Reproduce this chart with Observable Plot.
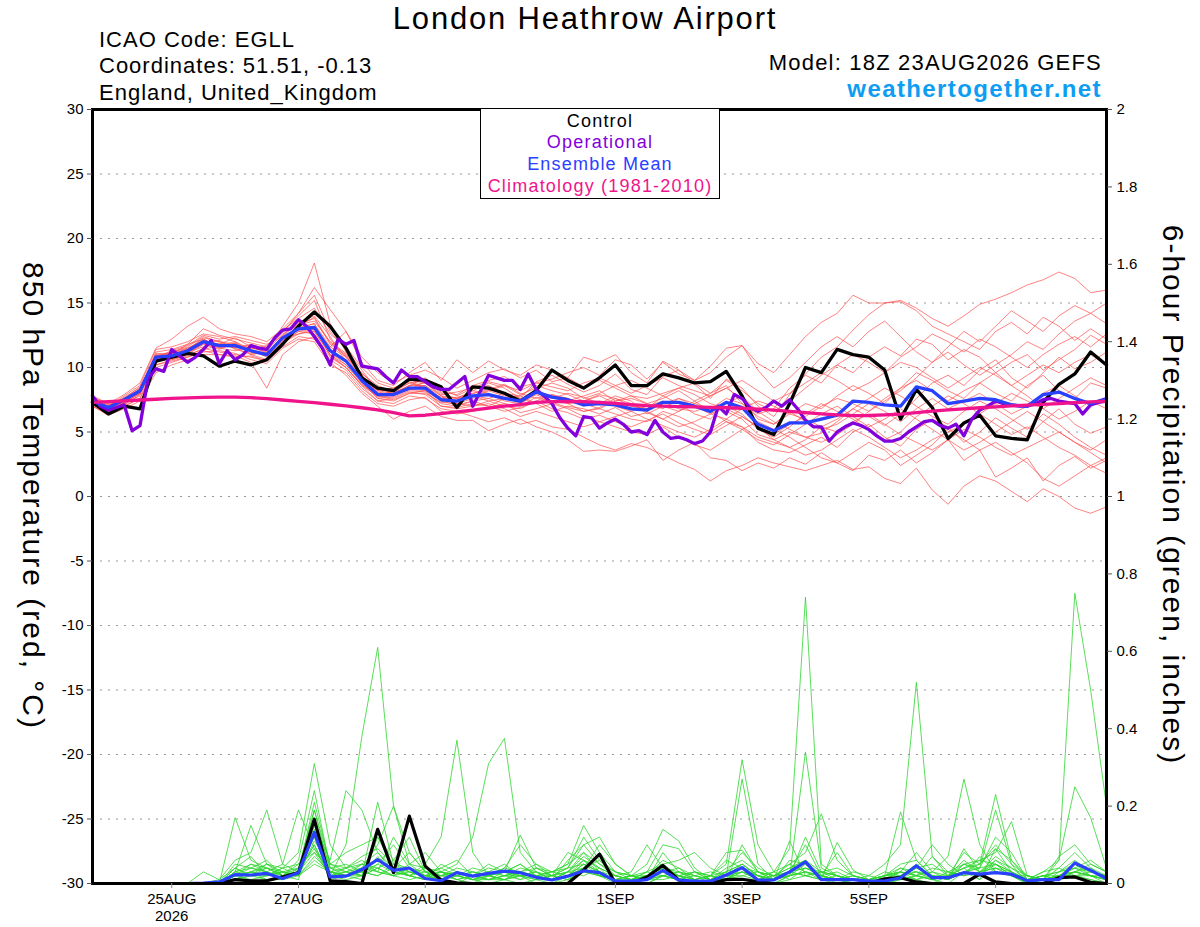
<!DOCTYPE html>
<html><head><meta charset="utf-8">
<script src="https://cdn.jsdelivr.net/npm/d3@7"></script>
<script src="https://cdn.jsdelivr.net/npm/@observablehq/plot@0.6"></script>
<style>
html,body{margin:0;padding:0;background:#fff;}
#wrap{position:relative;width:1200px;height:927px;font-family:"Liberation Sans",Arial,Helvetica,sans-serif;overflow:hidden;}
#wrap svg{position:absolute;left:0;top:0;}
.t{position:absolute;white-space:nowrap;line-height:1;}
#legend{position:absolute;left:480px;top:108px;width:240px;height:91px;box-sizing:border-box;border:1.5px solid #000;background:#fff;}
</style></head><body><div id="wrap"></div>
<script>
// ---------- DATA ----------
const runStartUTC = [2026, 7, 23, 18]; // 18Z 23AUG2026
const tempTicks = [-30,-25,-20,-15,-10,-5,0,5,10,15,20,25,30];
const gridTicks = [-25,-20,-15,-10,-5,0,5,10,15,20,25];
const precipTicks = [0,0.2,0.4,0.6,0.8,1,1.2,1.4,1.6,1.8,2];
const precipTickLabels = ["0","0.2","0.4","0.6","0.8","1","1.2","1.4","1.6","1.8","2"];
const dateTicks = ["2026-08-25","2026-08-27","2026-08-29","2026-09-01","2026-09-03","2026-09-05","2026-09-07"];
const dateTickLabels = ["25AUG\n2026","27AUG","29AUG","1SEP","3SEP","5SEP","7SEP"];

// 6-hourly 850 hPa temperature (degC)
const tempControl = [7.3,6.4,7.0,6.8,10.5,10.8,11.1,10.9,10.1,10.5,
 10.2,10.6,11.8,13.2,14.3,13.2,11.5,9.2,8.4,8.2,
 9.1,9.0,8.5,6.9,8.5,8.4,8.0,7.4,8.2,9.8,
 9.0,8.4,9.2,10.2,8.6,8.6,9.5,9.2,8.8,8.9,
 9.7,7.8,5.3,4.8,7.2,10.0,9.6,11.4,11.0,10.8,
 9.8,6.0,8.3,6.9,4.5,5.7,6.3,4.7,4.5,4.4,
 7.3,8.7,9.5,11.2,10.2];
const tempMean = [7.4,6.9,7.5,8.2,10.8,10.9,11.3,12.0,11.7,11.7,
 11.3,11.0,12.3,13.0,13.1,11.3,10.5,9.0,7.9,7.9,
 8.4,8.4,7.5,7.4,7.8,7.9,7.6,7.4,8.1,7.7,
 7.5,7.1,7.2,7.1,6.8,6.7,7.3,7.3,7.0,6.6,
 7.3,6.9,5.6,5.1,5.7,5.7,6.0,6.3,7.4,7.3,
 7.1,7.0,8.5,8.2,7.2,7.4,7.6,7.5,7.1,7.0,
 7.9,8.1,7.6,7.2,7.6];
const tempClimatology = [7.3,7.36,7.42,7.48,7.54,7.6,7.65,7.68,7.7,7.7,
 7.66,7.58,7.48,7.38,7.27,7.15,7.02,6.88,6.72,6.5,
 6.25,6.3,6.42,6.56,6.7,6.85,7.0,7.12,7.3,7.36,
 7.38,7.36,7.3,7.22,7.12,7.04,7.0,6.97,6.94,6.91,
 6.88,6.84,6.78,6.7,6.6,6.5,6.4,6.32,6.27,6.28,
 6.32,6.38,6.5,6.62,6.72,6.8,6.88,6.95,7.02,7.08,
 7.14,7.2,7.27,7.34,7.4];
// 3-hourly operational run
const tempOperational = [7.8,7.0,6.7,6.9,7.1,5.1,5.5,9.1,9.9,9.7,
 11.4,10.9,10.4,10.8,11.4,12.1,10.3,11.3,10.6,11.0,
 11.7,11.5,11.4,12.3,12.9,13.0,13.7,13.2,12.4,11.5,
 10.2,12.2,11.8,12.1,10.1,10.0,9.9,9.3,8.8,9.8,
 9.3,9.3,8.9,8.5,8.3,8.3,8.8,9.3,7.0,8.2,
 9.4,9.2,9.0,9.0,8.3,9.5,8.3,7.8,7.2,6.1,
 5.3,4.7,6.2,6.1,5.3,5.7,6.0,5.6,5.0,5.1,
 4.8,5.9,5.0,4.5,4.6,4.4,4.1,4.3,5.0,7.0,
 6.4,7.9,7.6,6.9,6.6,6.9,7.4,7.0,7.5,6.8,
 5.9,5.4,5.4,4.3,5.0,5.4,5.7,5.5,5.2,4.7,
 4.3,4.3,4.5,5.0,5.4,5.8,5.9,5.5,5.3,5.6,
 4.7,6.0,6.7,7.0,7.4,7.2,7.1,7.0,7.0,7.2,
 7.5,7.6,7.4,7.3,7.2,6.4,7.1,7.3,7.4];
// 6-hourly ensemble members
const tempMembers = [
 [7.5,6.8,7.6,8.5,10.9,11.2,11.6,12.4,12.0,11.5,11.8,11.4,13.2,15.0,18.1,13.4,11.2,9.5,8.6,8.1,8.8,9.0,8.0,7.6,8.2,8.8,8.4,7.6,8.9,9.4,8.7,8.1,8.6,9.5,8.3,7.9,9.3,9.8,8.7,7.6,9.1,8.4,7.0,6.2,7.9,9.5,10.8,11.6,12.9,14.1,15.0,15.2,14.6,13.8,13.2,14.0,14.9,15.3,15.8,16.4,16.8,17.4,16.9,15.8,16.0],
 [7.2,6.5,7.3,8.0,10.5,11.0,11.8,13.0,12.5,12.2,11.9,11.6,12.8,14.0,15.2,12.2,10.8,9.6,8.4,8.0,8.6,9.2,8.1,7.9,8.6,9.0,9.3,8.5,8.8,9.1,9.6,10.0,9.4,10.6,10.2,9.1,10.4,9.5,9.0,10.1,11.5,11.7,10.3,9.6,11.0,12.4,13.5,14.2,15.6,15.0,15.0,15.1,14.4,13.2,12.6,12.0,11.4,12.8,13.5,12.6,13.9,13.2,12.1,13.0,12.2],
 [7.6,7.1,7.2,7.8,10.2,10.6,10.9,11.5,11.2,11.0,10.8,10.5,11.9,12.6,12.8,11.0,10.0,8.6,7.4,7.2,7.8,7.6,6.8,6.6,6.2,5.8,6.1,5.6,5.9,5.4,5.2,4.6,4.0,3.6,4.1,3.8,3.2,2.6,2.1,1.2,2.0,2.4,3.0,2.6,2.3,2.0,2.4,2.8,2.1,2.3,1.4,1.0,2.2,0.5,-0.6,0.8,1.6,1.2,0.4,-0.4,0.6,0.0,-0.9,-1.3,-0.8],
 [7.0,6.3,6.8,7.4,9.6,10.2,10.6,11.0,11.0,10.9,10.4,8.4,11.0,12.0,12.4,10.4,9.4,8.0,7.0,6.0,6.6,7.0,6.2,5.9,5.9,5.1,5.6,6.0,5.4,5.0,4.4,3.5,3.6,3.5,3.9,4.4,2.8,3.6,4.2,3.0,2.8,2.0,2.6,2.2,3.0,2.5,3.4,2.6,2.0,3.2,2.8,3.6,2.6,3.4,4.4,2.8,3.6,1.5,2.2,3.0,1.2,2.4,3.1,2.2,2.8],
 [7.8,7.2,7.9,8.8,11.5,12.2,13.2,13.9,13.0,12.6,12.4,12.0,13.0,14.2,16.2,14.5,12.8,10.8,9.6,8.8,9.4,9.8,9.2,8.4,9.0,9.6,9.9,9.2,9.8,8.9,9.2,8.5,9.0,8.4,7.8,7.2,7.6,8.2,7.4,8.0,8.6,7.2,6.4,6.8,8.4,9.4,8.8,10.2,9.6,10.8,11.6,10.9,12.2,11.8,10.6,11.4,10.8,9.6,10.4,11.0,9.8,10.6,11.4,12.5,11.8],
 [7.3,6.7,7.4,8.1,10.9,11.0,11.5,12.1,11.8,12.3,11.6,11.2,12.0,13.4,13.8,11.8,10.9,9.3,8.2,8.4,9.0,8.8,7.9,8.1,8.4,8.6,8.0,7.8,8.6,8.2,7.9,7.4,7.9,7.6,7.0,6.8,7.8,7.2,6.4,6.0,7.2,7.8,6.6,5.8,5.2,4.6,4.9,5.8,6.8,6.2,5.5,6.4,7.6,8.8,9.4,8.6,9.8,10.6,9.2,8.4,9.6,10.8,9.9,10.4,11.2],
 [7.1,6.6,7.1,7.9,10.6,10.7,11.0,11.8,11.4,11.9,11.2,10.9,12.5,13.6,12.8,11.0,10.2,8.8,7.6,7.7,8.2,8.1,7.2,7.0,7.4,7.6,7.2,7.0,7.7,7.3,6.9,6.6,6.8,6.4,6.0,5.8,6.6,6.2,5.6,5.0,5.8,5.4,4.2,3.6,3.4,4.0,4.6,3.8,5.0,5.6,4.6,3.9,5.2,6.0,5.4,4.2,5.0,6.1,5.3,4.6,5.8,6.8,5.6,4.9,5.4],
 [7.5,7.0,7.7,8.4,11.0,11.1,11.4,12.3,12.0,11.8,11.5,11.3,12.6,13.3,13.6,12.0,11.1,9.4,8.0,7.8,8.6,8.6,7.8,7.2,7.6,8.2,7.8,7.2,8.0,7.6,8.0,7.7,7.2,7.8,7.4,6.4,7.0,6.6,7.2,7.8,8.4,7.6,6.0,5.6,6.4,7.2,6.8,7.8,8.6,8.0,7.2,8.4,9.6,9.0,8.2,7.6,8.8,8.0,7.4,8.6,9.4,8.2,7.6,8.8,8.4],
 [7.2,6.8,7.3,8.0,10.4,10.8,11.2,11.6,11.9,11.5,11.0,10.6,11.8,12.8,12.6,10.8,10.0,8.7,7.8,7.5,8.0,8.2,7.0,6.9,7.2,7.0,6.6,6.9,7.4,6.8,6.5,6.0,6.3,5.8,5.4,5.9,6.4,5.7,5.2,4.8,5.5,6.2,5.4,4.4,3.8,4.4,5.4,6.0,6.8,7.6,8.4,7.8,7.0,6.2,5.6,6.6,7.4,6.8,6.0,5.2,6.4,5.6,4.6,3.8,3.2],
 [7.6,6.9,7.6,8.3,11.2,11.4,11.8,12.2,11.6,11.6,11.4,11.7,12.9,13.8,14.6,12.6,11.6,10.0,8.8,8.4,8.9,8.5,7.6,7.7,8.0,8.3,8.7,8.0,7.6,7.9,7.4,7.8,8.2,7.4,7.8,7.6,8.0,8.4,7.9,7.2,6.8,6.2,5.4,4.8,5.6,6.2,7.0,7.6,7.2,6.6,7.4,8.2,9.2,10.4,11.2,10.2,9.4,10.2,11.0,12.0,11.4,12.6,13.6,14.2,13.4],
 [7.0,6.4,7.0,7.6,10.0,10.4,10.8,11.2,11.3,11.1,10.6,10.3,11.5,12.2,12.0,10.2,9.6,8.2,7.2,7.0,7.5,7.7,6.6,6.4,6.6,6.9,7.2,6.5,6.8,7.2,6.8,6.2,5.8,6.2,6.6,6.0,5.5,5.0,4.6,5.2,6.0,6.8,7.4,7.0,6.4,6.0,5.4,5.0,5.8,6.4,5.6,4.8,4.2,3.6,4.4,5.2,4.6,3.8,3.2,3.8,4.4,5.0,4.2,3.6,4.4],
 [7.4,7.0,7.8,8.6,11.4,11.6,12.0,12.6,12.4,12.0,11.2,11.0,12.2,13.1,13.4,11.6,12.8,10.4,9.0,8.6,9.6,10.4,9.0,10.6,9.6,10.5,9.8,9.4,10.2,9.8,9.2,10.8,10.4,11.0,9.6,8.8,10.5,9.8,9.0,9.6,10.8,11.7,9.8,8.4,9.2,10.4,11.6,12.4,11.6,12.8,13.6,12.4,11.2,10.4,11.6,12.8,12.0,13.2,14.4,13.6,12.8,14.0,14.8,14.2,15.0],
 [7.3,6.6,7.2,8.0,10.7,10.9,11.1,11.9,11.5,11.3,11.6,11.1,12.4,13.5,14.0,12.4,10.4,9.0,7.6,7.4,8.0,8.0,7.3,7.2,7.0,7.4,7.6,7.8,7.2,6.6,7.0,6.8,6.4,6.9,6.2,6.5,6.0,5.4,5.8,6.4,7.0,6.4,5.2,4.6,5.4,6.4,7.2,6.6,6.0,5.2,4.4,5.0,6.2,7.0,7.8,7.2,6.4,7.2,8.0,7.4,6.8,7.6,8.4,9.2,8.6],
 [7.7,7.2,7.5,8.2,10.8,11.3,11.7,12.5,12.2,12.4,12.1,11.8,12.4,12.9,13.2,10.9,10.0,8.6,7.8,8.2,8.8,8.4,7.4,7.6,7.8,7.4,7.0,6.8,7.4,7.9,7.6,7.0,7.4,7.0,6.6,7.0,7.4,6.8,6.6,7.0,6.6,6.0,4.8,4.4,5.0,4.6,4.2,4.8,5.6,6.6,7.6,8.4,9.0,8.2,7.4,8.2,8.8,9.6,8.6,7.8,6.8,6.0,6.6,7.4,6.8],
 [7.4,6.8,7.4,8.1,10.6,10.6,11.0,11.4,11.7,12.0,11.4,10.8,12.0,12.8,13.0,11.4,10.6,9.2,8.3,8.1,8.5,8.3,7.7,7.4,8.2,8.0,7.4,7.2,7.9,7.4,7.2,7.4,7.8,7.2,7.0,6.8,7.2,7.6,7.2,6.8,7.6,7.2,6.2,5.6,6.6,5.8,5.2,5.6,6.4,7.2,6.6,5.8,6.8,7.6,6.8,7.4,8.0,7.2,6.4,7.0,8.0,8.6,7.8,7.0,7.6],
 [7.2,6.6,7.0,7.6,10.2,10.5,10.8,11.3,11.0,10.8,10.9,10.5,11.6,12.4,12.2,10.6,9.8,8.4,7.4,7.6,8.1,7.9,7.0,6.8,7.0,7.2,6.8,6.2,6.6,6.2,5.8,5.4,5.8,5.4,5.0,4.8,5.4,4.6,4.0,3.6,4.4,5.2,5.8,5.2,4.6,3.8,3.0,2.6,3.4,4.2,3.6,2.4,3.2,4.0,5.2,4.4,3.6,4.2,3.4,2.6,1.4,0.8,1.6,2.4,1.8],
 [7.5,6.9,7.5,8.3,11.1,11.0,11.3,11.9,11.8,11.6,11.7,11.5,12.7,14.2,15.6,12.8,11.4,9.8,8.2,8.0,8.3,8.9,8.4,7.8,8.4,8.9,8.6,8.2,8.8,8.5,8.2,8.8,9.2,8.6,8.0,8.6,9.2,8.6,8.2,7.8,8.4,9.0,8.2,7.4,8.0,8.8,9.6,9.0,8.2,8.8,9.6,10.4,10.0,9.2,8.4,9.2,10.0,9.4,8.6,9.4,10.2,9.6,10.4,11.0,10.2],
 [7.1,6.5,7.2,8.4,10.6,11.2,11.5,12.0,11.5,11.9,11.0,11.2,12.1,13.0,13.4,11.2,10.2,8.9,7.7,7.8,8.3,8.2,7.4,7.1,7.4,7.0,7.6,7.4,8.2,7.8,7.2,6.6,6.9,7.6,7.2,6.6,6.0,6.6,7.4,6.6,5.8,5.2,4.4,4.0,4.8,5.6,6.4,7.0,6.2,5.4,6.0,6.8,6.0,5.2,4.4,3.6,4.2,5.0,5.8,6.6,5.8,5.0,4.2,3.4,2.6],
 [7.6,7.1,7.6,8.0,10.9,10.8,11.4,12.2,11.6,11.8,11.3,10.9,12.2,12.6,13.0,11.6,10.8,9.2,8.0,8.0,8.6,8.8,7.8,7.6,8.0,8.2,8.6,7.9,8.4,8.8,8.4,7.6,8.0,8.6,9.0,8.4,7.8,8.4,8.8,8.0,9.0,8.2,7.2,6.6,7.4,8.4,9.4,10.2,11.0,10.4,9.6,10.8,11.6,12.6,12.0,11.2,12.2,11.6,10.8,10.0,11.0,11.8,12.4,11.6,12.6],
 [7.3,6.8,7.4,8.2,10.7,11.1,11.2,11.8,12.1,11.4,11.1,11.1,12.2,13.2,13.9,11.9,11.0,9.4,8.1,7.9,8.4,8.6,7.6,7.3,7.8,7.6,8.0,7.6,7.2,7.8,7.6,7.2,6.8,7.4,7.6,7.2,6.8,7.6,7.0,6.4,6.0,5.4,4.6,4.2,3.8,3.2,3.6,4.4,5.2,4.6,3.8,3.0,3.6,4.4,5.0,5.6,6.4,5.6,4.8,5.4,4.6,3.8,3.2,2.4,3.0]
];

// 6-hour precipitation (inches), valid from 00Z 24AUG (64 steps)
const precipControl = [0,0,0,0,0,0,0,0,0.01,0.007,0.007,0.017,0.028,0.166,0.007,0.005,
 0,0.14,0.028,0.174,0.045,0.009,0.002,0,0,0,0,0,0,0,0.035,0.076,
 0,0,0.017,0.047,0.009,0,0,0.01,0.011,0.005,0,0,0,0,0,0,
 0,0.012,0.015,0.004,0,0,0,0.024,0.004,0,0,0,0.015,0.017,0.003,0];
const precipMean = [0,0,0,0,0,0,0.001,0.004,0.023,0.022,0.026,0.013,0.028,0.132,0.017,0.019,
 0.036,0.062,0.034,0.04,0.013,0.007,0.028,0.019,0.026,0.032,0.028,0.016,0.009,0.019,0.033,0.028,
 0.006,0.006,0.01,0.034,0.009,0.006,0.006,0.022,0.041,0.009,0.009,0.03,0.056,0.01,0.01,0.01,
 0.006,0.006,0.015,0.046,0.015,0.015,0.028,0.024,0.028,0.024,0.007,0.01,0.01,0.053,0.034,0.013];
const precipMembers = [
 [0,0,0,0,0,0,0,0, 0.02,0.05,0.03,0.01,0.04,0.12,0.02,0.10, 0.38,0.61,0.20,0.08,0.03,0.01,0,0.02, 0.01,0.03,0.02,0,0,0.01,0.04,0.02, 0,0,0,0.02,0.01,0,0,0.01, 0.04,0.01,0.03,0.09,0.74,0.05,0.02,0, 0,0,0.01,0.02,0.01,0,0.03,0.02, 0.05,0.02,0,0,0.01,0.03,0.02,0],
 [0,0,0,0,0,0,0,0.01, 0.04,0.02,0.05,0.03,0.02,0.19,0.03,0.02, 0.05,0.08,0.03,0.02,0.05,0.12,0.37,0.08, 0.02,0.01,0,0.01,0,0.02,0.05,0.03, 0.01,0,0.01,0.03,0.02,0,0,0.02, 0.01,0,0,0.02,0.05,0.02,0.01,0, 0,0,0.02,0.01,0,0.02,0.04,0.01, 0.09,0.03,0,0.01,0.06,0.75,0.50,0.20],
 [0,0,0,0,0,0,0,0, 0.01,0.03,0.02,0.04,0.05,0.08,0.02,0.03, 0.02,0.04,0.02,0.01,0.02,0.03,0.05,0.12, 0.31,0.375,0.08,0.03,0.01,0.02,0.06,0.04, 0,0.01,0.02,0.04,0.02,0,0.01,0.03, 0.05,0.02,0,0.01,0.04,0.02,0,0.01, 0.02,0.05,0.10,0.52,0.07,0.02,0.03,0.01, 0.04,0.02,0,0,0.02,0.03,0.02,0.01],
 [0,0,0,0,0,0,0,0, 0.17,0.06,0.04,0.02,0.03,0.10,0.01,0.02, 0.03,0.05,0.10,0.04,0.02,0.01,0.03,0.02, 0.01,0.02,0.03,0.05,0.02,0.04,0.10,0.12, 0.05,0.02,0.03,0.02,0.01,0,0.02,0.05, 0.32,0.10,0.03,0.01,0.02,0.01,0,0, 0,0.01,0.02,0.01,0.03,0.07,0.27,0.10, 0.03,0.02,0,0,0.01,0.02,0.01,0],
 [0,0,0,0,0,0,0,0, 0.03,0.15,0.05,0.02,0.06,0.24,0.04,0.02, 0.01,0.12,0.04,0.02,0.01,0.02,0.01,0, 0.02,0.03,0.125,0.04,0.02,0.01,0.03,0.02, 0.01,0,0.02,0.03,0.02,0.01,0,0.02, 0.27,0.05,0.01,0.02,0.34,0.04,0.02,0.01, 0,0,0.02,0.03,0.01,0.02,0.04,0.05, 0.23,0.06,0.01,0,0.02,0.05,0.03,0.02],
 [0,0,0,0,0,0,0.03,0.01, 0.06,0.08,0.19,0.05,0.03,0.21,0.05,0.03, 0.02,0.21,0.05,0.02,0.01,0.03,0.02,0.01, 0,0.01,0.02,0.03,0.01,0.03,0.08,0.05, 0.02,0.01,0,0.02,0.03,0.01,0,0.01, 0.03,0.01,0,0.02,0.03,0.02,0.01,0, 0,0.02,0.185,0.06,0.02,0.01,0.03,0.04, 0.19,0.05,0,0.01,0.02,0.04,0.02,0.01],
 [0,0,0,0,0,0,0,0, 0.04,0.07,0.02,0.03,0.02,0.15,0.06,0.24, 0.19,0.08,0.04,0.02,0.03,0.01,0.02,0.01, 0.02,0.01,0.03,0.02,0.01,0.02,0.05,0.03, 0.01,0.02,0.05,0.14,0.11,0.04,0.01,0.02, 0.04,0.03,0.02,0.05,0.08,0.18,0.06,0.02, 0.01,0,0.01,0.02,0.01,0.03,0.05,0.06, 0.08,0.16,0.02,0.01,0.02,0.03,0.04,0.02],
 [0,0,0,0,0,0,0,0, 0.02,0.03,0.05,0.04,0.08,0.31,0.10,0.04, 0.05,0.03,0.02,0.05,0.04,0.02,0.03,0.02, 0.05,0.03,0.01,0.02,0.03,0.05,0.15,0.08, 0.03,0.02,0.01,0.01,0.02,0.03,0.02,0.08, 0.086,0.03,0.01,0.11,0.02,0.01,0.106,0.035, 0.01,0,0.02,0.04,0.10,0.05,0.02,0.03, 0.06,0.04,0.01,0,0.03,0.05,0.02,0.01],
 [0,0,0,0,0,0,0,0, 0.01,0.02,0.03,0.05,0.19,0.09,0.03,0.02, 0.04,0.10,0.20,0.05,0.02,0.03,0.01,0.02, 0.03,0.02,0.04,0.03,0.01,0.02,0.04,0.10, 0.05,0.02,0.01,0.08,0.03,0.02,0.01,0.02, 0.05,0.02,0.01,0.03,0.02,0.03,0.01,0, 0,0.01,0.03,0.08,0.03,0.01,0.09,0.03, 0.05,0.02,0.01,0.03,0.06,0.25,0.17,0.04],
 [0,0,0,0,0,0,0,0, 0.03,0.04,0.06,0.02,0.04,0.19,0.05,0.08, 0.10,0.12,0.06,0.12,0.03,0.02,0.04,0.03, 0.02,0.04,0.10,0.05,0.03,0.04,0.12,0.06, 0.02,0.01,0.03,0.10,0.09,0.03,0.01,0.04, 0.06,0.03,0.02,0.04,0.06,0.03,0.02,0.01, 0.01,0.02,0.05,0.06,0.02,0.01,0.03,0.05, 0.09,0.06,0.02,0.01,0.07,0.10,0.05,0.03],
 [0,0,0,0,0,0,0,0, 0.02,0.03,0.01,0.02,0.05,0.12,0.02,0.04, 0.06,0.03,0.12,0.05,0.08,0.03,0.02,0.01, 0.01,0.02,0.02,0.03,0.02,0.08,0.06,0.03, 0.01,0,0.01,0.05,0.06,0.08,0.04,0.02, 0.03,0.02,0.01,0.03,0.10,0.02,0.01,0.01, 0,0.01,0.02,0.05,0.01,0.02,0.06,0.03, 0.04,0.03,0.01,0.02,0.01,0.02,0.03,0.02],
 [0,0,0,0,0,0,0,0, 0.05,0.04,0.03,0.02,0.03,0.08,0.04,0.05, 0.03,0.06,0.04,0.08,0.03,0.04,0.02,0.03, 0.02,0.03,0.05,0.02,0.01,0.03,0.02,0.04, 0.02,0.03,0.10,0.04,0.02,0.01,0.02,0.06, 0.04,0.02,0.03,0.05,0.03,0.02,0.08,0.02, 0.01,0.02,0.03,0.02,0.07,0.03,0.02,0.07, 0.03,0.02,0.01,0.03,0.04,0.08,0.04,0.01],
 [0,0,0,0,0,0,0,0, 0.02,0.01,0.02,0.03,0.02,0.06,0.03,0.02, 0.02,0.05,0.03,0.02,0.01,0.05,0.03,0.02, 0.01,0.01,0.02,0.01,0.02,0.03,0.04,0.02, 0.01,0.02,0.02,0.03,0.04,0.02,0.01,0.01, 0.02,0.01,0.02,0.03,0.04,0.03,0.02,0.01, 0.01,0.02,0.02,0.03,0.02,0.02,0.03,0.02, 0.03,0.02,0.02,0.01,0.02,0.03,0.02,0.01],
 [0,0,0,0,0,0,0,0, 0.04,0.02,0.01,0.01,0.03,0.10,0.02,0.03, 0.05,0.04,0.02,0.03,0.02,0.01,0.02,0.04, 0.03,0.05,0.02,0.02,0.01,0.06,0.10,0.05, 0.03,0.01,0.02,0.06,0.04,0.01,0.02,0.03, 0.08,0.04,0.02,0.02,0.12,0.03,0.04,0.02, 0.01,0.01,0.04,0.03,0.02,0.01,0.05,0.04, 0.12,0.08,0.01,0.02,0.03,0.06,0.03,0.02],
 [0,0,0,0,0,0,0,0, 0.01,0.03,0.02,0.04,0.02,0.05,0.03,0.04, 0.07,0.09,0.05,0.03,0.02,0.04,0.06,0.02, 0.02,0.01,0.03,0.02,0.02,0.01,0.03,0.02, 0.01,0.01,0.02,0.02,0.01,0.02,0.03,0.02, 0.03,0.02,0.01,0.06,0.05,0.02,0.01,0.02, 0.01,0.02,0.04,0.02,0.03,0.02,0.08,0.05, 0.10,0.05,0.02,0.01,0.02,0.02,0.01,0],
 [0,0,0,0,0,0,0,0, 0.03,0.05,0.04,0.02,0.01,0.14,0.03,0.02, 0.03,0.02,0.04,0.03,0.02,0.02,0.03,0.01, 0.03,0.02,0.01,0.04,0.03,0.05,0.08,0.03, 0.02,0.01,0.03,0.05,0.02,0.03,0.01,0.02, 0.02,0.03,0.01,0.02,0.03,0.01,0.02,0.01, 0.01,0.03,0.02,0.04,0.05,0.02,0.04,0.06, 0.05,0.03,0.01,0.02,0.03,0.04,0.06,0.03],
 [0,0,0,0,0,0,0,0, 0.02,0.03,0.04,0.02,0.03,0.17,0.04,0.03, 0.04,0.03,0.02,0.04,0.03,0.02,0.02,0.03, 0.02,0.04,0.03,0.02,0.01,0.03,0.07,0.04, 0.02,0.01,0.02,0.04,0.03,0.01,0.02,0.01, 0.04,0.02,0.01,0.03,0.02,0.03,0.02,0.01, 0,0.01,0.03,0.02,0.04,0.03,0.02,0.03, 0.07,0.04,0.02,0.01,0.04,0.02,0.02,0.01],
 [0,0,0,0,0,0,0,0, 0.01,0.02,0.02,0.03,0.04,0.09,0.02,0.01, 0.02,0.07,0.03,0.02,0.04,0.03,0.01,0.02, 0.04,0.03,0.02,0.01,0.02,0.04,0.05,0.02, 0.01,0.02,0.01,0.02,0.01,0.03,0.02,0.01, 0.10,0.03,0.02,0.04,0.06,0.02,0.01,0.02, 0.01,0.02,0.03,0.01,0.02,0.01,0.03,0.02, 0.06,0.03,0.01,0.02,0.01,0.03,0.02,0.02],
 [0,0,0,0,0,0,0,0, 0.02,0.04,0.03,0.01,0.02,0.07,0.03,0.02, 0.03,0.02,0.05,0.04,0.02,0.03,0.02,0.01, 0.02,0.03,0.05,0.02,0.03,0.02,0.04,0.06, 0.03,0.02,0.01,0.02,0.03,0.02,0.01,0.03, 0.05,0.02,0.01,0.02,0.03,0.02,0.03,0.01, 0.01,0.02,0.03,0.02,0.01,0.02,0.05,0.03, 0.04,0.02,0.01,0.02,0.02,0.04,0.03,0.02],
 [0,0,0,0,0,0,0,0, 0.03,0.02,0.04,0.03,0.02,0.11,0.05,0.04, 0.02,0.04,0.06,0.03,0.02,0.01,0.03,0.02, 0.01,0.02,0.03,0.04,0.02,0.03,0.06,0.02, 0.01,0.02,0.01,0.03,0.02,0.01,0.02,0.01, 0.03,0.01,0.02,0.03,0.04,0.02,0.01,0.03, 0.02,0.01,0.02,0.04,0.02,0.01,0.03,0.04, 0.05,0.03,0.01,0.01,0.02,0.03,0.05,0.03]
];

// ---------- CHART ----------
const H6 = 6 * 3600 * 1000;
const t0 = Date.UTC(...runStartUTC);
const at6 = i => new Date(t0 + i * H6);
const at3 = j => new Date(t0 + j * H6 / 2);
const pToY = p => -30 + 30 * p; // right axis (0..2 in) shares the left axis (-30..30 C)

const series6 = arr => arr.map((v, i) => ({t: at6(i), v}));
const series3 = arr => arr.map((v, j) => ({t: at3(j), v}));
const precipSeries = arr => arr.map((p, k) => ({t: at6(k + 1), p}));

const memberRows = tempMembers.flatMap((arr, m) => arr.map((v, i) => ({m, t: at6(i), v})));
const precipMemberRows = precipMembers.flatMap((arr, m) => arr.map((p, k) => ({m, t: at6(k + 1), p})));

const rightTickPos = precipTicks.map(pToY);
const rightLabel = new Map(rightTickPos.map((y, i) => [y, precipTickLabels[i]]));
const dateTickDates = dateTicks.map(s => new Date(s + "T00:00:00Z"));
const dateLabel = new Map(dateTickDates.map((d, i) => [+d, dateTickLabels[i]]));

const C_RED = "#ff4545", C_GREEN = "#2ed62e", C_OPER = "#8200dc", C_MEAN = "#2a40ff", C_CLIM = "#f0148c";

const chart = Plot.plot({
  width: 1200, height: 927,
  marginLeft: 92, marginRight: 94, marginTop: 109, marginBottom: 44,
  style: {fontFamily: '"Liberation Sans", Arial, Helvetica, sans-serif', fontSize: "15px", background: "white", color: "black"},
  x: {type: "utc", domain: [at6(0), at6(64)]},
  y: {domain: [-30, 30]},
  marks: [
    Plot.ruleY(gridTicks, {stroke: "#9a9a9a", strokeWidth: 1.2, strokeDasharray: "2,6"}),
    Plot.line(memberRows, {x: "t", y: "v", z: "m", stroke: C_RED, strokeWidth: 0.8, strokeOpacity: 0.85, curve: "linear"}),
    Plot.line(precipMemberRows, {x: "t", y: d => pToY(d.p), z: "m", stroke: C_GREEN, strokeWidth: 0.8, curve: "linear"}),
    Plot.line(precipSeries(precipControl), {x: "t", y: d => pToY(d.p), stroke: "black", strokeWidth: 3.2}),
    Plot.line(precipSeries(precipMean), {x: "t", y: d => pToY(d.p), stroke: C_MEAN, strokeWidth: 3.2}),
    Plot.line(series6(tempControl), {x: "t", y: "v", stroke: "black", strokeWidth: 3.3}),
    Plot.line(series3(tempOperational), {x: "t", y: "v", stroke: C_OPER, strokeWidth: 3.3}),
    Plot.line(series6(tempMean), {x: "t", y: "v", stroke: C_MEAN, strokeWidth: 3.3}),
    Plot.line(series6(tempClimatology), {x: "t", y: "v", stroke: C_CLIM, strokeWidth: 3.3}),
    Plot.frame({stroke: "black", strokeWidth: 3}),
    Plot.axisY(tempTicks, {anchor: "left", tickSize: 5, tickPadding: 4, fontSize: 15, stroke: "#555", tickFormat: d => String(d), label: null}),
    Plot.axisY(rightTickPos, {anchor: "right", tickSize: 5, tickPadding: 5, fontSize: 15, stroke: "#555", tickFormat: d => rightLabel.get(d), label: null}),
    Plot.axisX(dateTickDates, {anchor: "bottom", tickSize: 5, tickPadding: 4, fontSize: 15, stroke: "#888", tickFormat: d => dateLabel.get(+d), lineHeight: 1.1, label: null})
  ]
});

const wrap = document.getElementById("wrap");
wrap.appendChild(chart);

function addText(txt, css) {
  const d = document.createElement("div");
  d.className = "t";
  d.textContent = txt;
  Object.assign(d.style, css);
  wrap.appendChild(d);
  return d;
}
// Header
addText("London Heathrow Airport", {left: "585px", top: "18px", fontSize: "31px", letterSpacing: "1.8px", transform: "translate(-50%,-50%)"});
addText("ICAO Code: EGLL", {left: "99px", top: "40px", fontSize: "22px", letterSpacing: "1px", transform: "translateY(-50%)"});
addText("Coordinates: 51.51, -0.13", {left: "99px", top: "66px", fontSize: "22px", letterSpacing: "1px", transform: "translateY(-50%)"});
addText("England, United_Kingdom", {left: "99px", top: "93px", fontSize: "22px", letterSpacing: "1px", transform: "translateY(-50%)"});
addText("Model: 18Z 23AUG2026 GEFS", {right: "98px", top: "63px", fontSize: "22px", letterSpacing: "1.2px", transform: "translateY(-50%)"});
addText("weathertogether.net", {right: "98px", top: "89px", fontSize: "24px", fontWeight: "bold", letterSpacing: "1.4px", color: "#0e9df2", transform: "translateY(-50%)"});

// Legend
const lg = document.createElement("div");
lg.id = "legend";
wrap.appendChild(lg);
const legendItems = [["Control", "#000", 120.7], ["Operational", C_OPER, 142.3], ["Ensemble Mean", C_MEAN, 164], ["Climatology (1981-2010)", C_CLIM, 186]];
legendItems.forEach(([txt, col, y]) => addText(txt, {left: "600px", top: y + "px", fontSize: "18px", letterSpacing: "1.2px", color: col, transform: "translate(-50%,-50%)"}));

// Axis titles (rotated clockwise)
addText("850 hPa Temperature (red, °C)", {left: "33px", top: "496px", fontSize: "30px", letterSpacing: "2px", transform: "translate(-50%,-50%) rotate(90deg)"});
addText("6-hour Precipitation (green, inches)", {left: "1173px", top: "495px", fontSize: "30px", letterSpacing: "2px", transform: "translate(-50%,-50%) rotate(90deg)"});
</script></body></html>
